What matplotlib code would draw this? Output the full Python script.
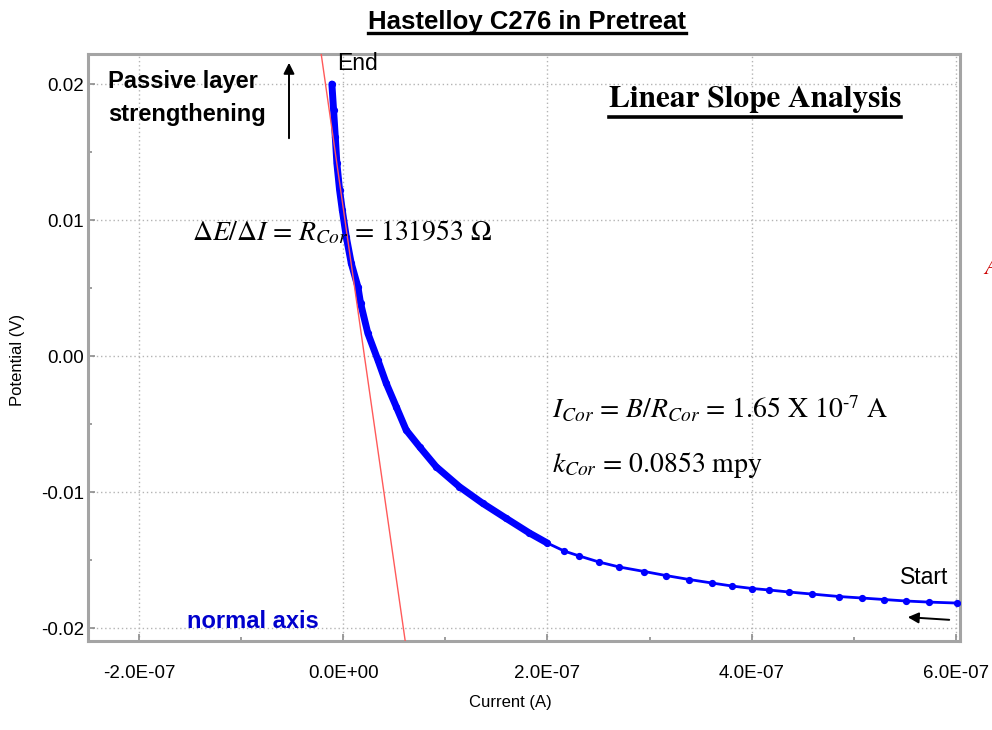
import numpy as np
import matplotlib
matplotlib.use("Agg")
import matplotlib.pyplot as plt
from matplotlib.ticker import MultipleLocator, FuncFormatter
from matplotlib.lines import Line2D

W, H = 992, 730

# polarisation sweep (current in A, potential in V)
current_a = [-1.115e-8, -9.49e-9, -7.83e-9, -6.26e-9, -3.62e-9, -0.98e-9, 2.94e-9,
             7.83e-9, 1.43e-8, 1.69e-8, 2.41e-8, 3.39e-8, 4.21e-8, 5.19e-8, 6.16e-8,
             7.47e-8, 9.10e-8, 1.138e-7, 1.366e-7, 1.595e-7, 1.823e-7, 1.999e-7,
             2.165e-7, 2.312e-7, 2.508e-7, 2.704e-7, 2.948e-7, 3.163e-7, 3.389e-7,
             3.614e-7, 3.809e-7, 4.005e-7, 4.171e-7, 4.367e-7, 4.592e-7, 4.856e-7,
             5.081e-7, 5.297e-7, 5.512e-7, 5.737e-7, 6.011e-7]
potential_v = [0.02002, 0.01811, 0.01615, 0.01419, 0.01223, 0.01076, 0.00879,
               0.00684, 0.00512, 0.00392, 0.00169, -0.00027, -0.00199, -0.00371, -0.00542,
               -0.00665, -0.00812, -0.00959, -0.01081, -0.01191, -0.01299, -0.01373,
               -0.01432, -0.01468, -0.01513, -0.01549, -0.01582, -0.01612, -0.01641,
               -0.01667, -0.01689, -0.01707, -0.01718, -0.01733, -0.01748, -0.01766,
               -0.01777, -0.01788, -0.01799, -0.01807, -0.01814]

# linear fit through the near-zero region
fit_current = [-2.5e-8, 6.27e-8]
fit_potential = [0.024, -0.022]

x_ticks = [-2e-7, 0.0, 2e-7, 4e-7, 6e-7]
y_ticks = [-0.02, -0.01, 0.0, 0.01, 0.02]

plt.rcParams.update({
    "font.family": "sans-serif",
    "font.sans-serif": ["Liberation Sans", "Arial", "DejaVu Sans"],
    "mathtext.fontset": "stix",
})
SERIF = "STIXGeneral"


def fx(x):
    return x / W


def fy(y):
    return 1 - y / H


fig = plt.figure(figsize=(W / 100, H / 100), dpi=100)
ax = fig.add_axes([fx(88), fy(641), (960 - 88) / W, (641 - 54) / H])

I = np.array(current_a); E = np.array(potential_v)
dense = E > -0.014
ax.plot(I[dense], E[dense], color="#0000ff", lw=5.0, solid_capstyle="round", zorder=3)
ax.plot(I, E, color="#0000ff", lw=2.0, marker="o", ms=4.2, zorder=3)
ax.plot(fit_current, fit_potential, color="#ff5a5a", lw=1.0, zorder=4)

ax.set_xlim(-2.5e-7, 6.04e-7)
ax.set_ylim(-0.02093, 0.02223)
ax.set_xticks(x_ticks); ax.set_yticks(y_ticks)
ax.xaxis.set_minor_locator(MultipleLocator(1e-7))
ax.yaxis.set_minor_locator(MultipleLocator(0.005))
ax.xaxis.set_major_formatter(FuncFormatter(lambda v, p: f"{v:.1E}"))
ax.yaxis.set_major_formatter(FuncFormatter(lambda v, p: f"{v:.2f}".replace("-0.00", "0.00")))
ax.grid(True, which="major", ls=(0, (1, 2)), color="#b4b4b4", lw=1.0)
ax.tick_params(which="both", direction="in", color="#8c8c8c", width=1.2, labelsize=13.5)
ax.tick_params(which="major", length=5)
ax.tick_params(which="minor", length=3)
ax.tick_params(axis="x", pad=17)
ax.tick_params(axis="y", pad=3)
for s in ax.spines.values():
    s.set_color("#a4a4a4"); s.set_linewidth(2.2)

fig.text(fx(510), fy(702), "Current (A)", ha="center", va="center", fontsize=12)
fig.text(fx(18), fy(360), "Potential (V)", ha="center", va="center", fontsize=12, rotation=90)

title = fig.text(fx(527), fy(29.5), "Hastelloy C276 in Pretreat", ha="center", va="baseline",
                 fontsize=18.5, fontweight="bold")
lsa = fig.text(fx(755), fy(107), "Linear Slope Analysis", ha="center", va="baseline",
               fontsize=22.5, fontweight="bold", family=SERIF)

fig.text(fx(108), fy(98), "Passive layer\nstrengthening", ha="left", va="center",
         fontsize=17, fontweight="bold", linespacing=1.55)
fig.text(fx(337), fy(64), "End", ha="left", va="center", fontsize=16.5)
fig.text(fx(900), fy(578), "Start", ha="left", va="center", fontsize=16.5)
fig.text(fx(187), fy(621), "normal axis", ha="left", va="center", fontsize=17,
         fontweight="bold", color="#0000cc")

fig.text(fx(192), fy(240), r"$\Delta E/\Delta I$ = $R_{Cor}$ = 131953 $\Omega$",
         ha="left", va="baseline", fontsize=20, family=SERIF)
fig.text(fx(552), fy(418), r"$I_{Cor}$ = $B/R_{Cor}$ = 1.65 X 10$^{\text{-7}}$ A",
         ha="left", va="baseline", fontsize=20, family=SERIF)
fig.text(fx(552), fy(472), r"$k_{Cor}$ = 0.0853 mpy",
         ha="left", va="baseline", fontsize=20, family=SERIF)
fig.text(fx(984), fy(268), "A", ha="left", va="center", fontsize=18, color="#cc0000",
         style="italic", family=SERIF)

ax.annotate("", xy=(fx(289), fy(60)), xytext=(fx(289), fy(141)), xycoords="figure fraction",
            textcoords="figure fraction",
            arrowprops=dict(arrowstyle="-|>", color="black", lw=1.4, mutation_scale=16))
ax.annotate("", xy=(fx(905), fy(617)), xytext=(fx(952), fy(620)), xycoords="figure fraction",
            textcoords="figure fraction",
            arrowprops=dict(arrowstyle="-|>", color="black", lw=1.4, mutation_scale=16))

# underline the two headings
fig.canvas.draw()
r = fig.canvas.get_renderer()
for t, base, gap, lw in [(title, fy(29.5), 3.5, 2.4), (lsa, fy(107), 9.5, 2.6)]:
    bb = t.get_window_extent(r)
    y = base - gap / H
    fig.add_artist(Line2D([bb.x0 / W, bb.x1 / W], [y, y], color="black", lw=lw,
                          transform=fig.transFigure))

fig.savefig("out.png", dpi=100)
